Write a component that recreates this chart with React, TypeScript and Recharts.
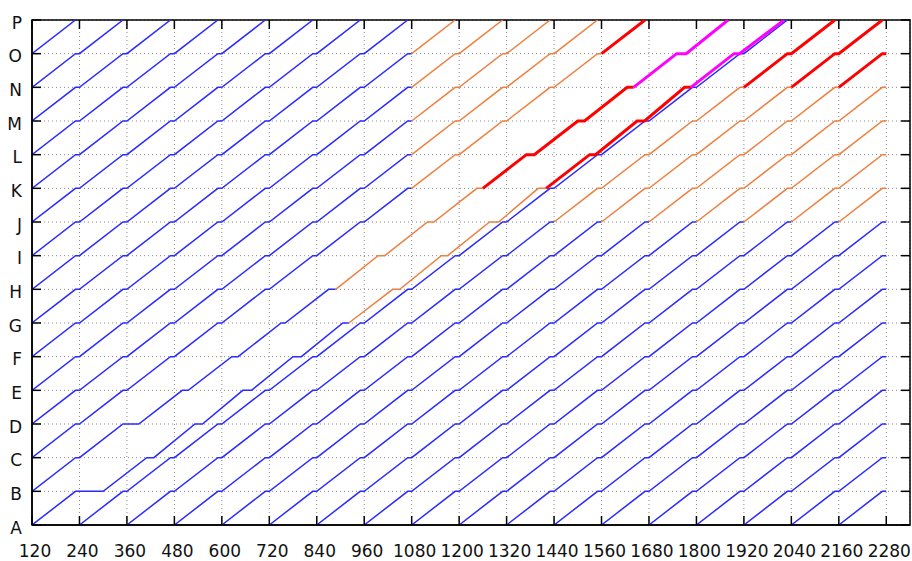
import { LineChart, Line, XAxis, YAxis, CartesianGrid, ReferenceArea } from "recharts";

const stations = ["A", "B", "C", "D", "E", "F", "G", "H", "I", "J", "K", "L", "M", "N", "O", "P"];
const levelTicks = [0, 1, 2, 3, 4, 5, 6, 7, 8, 9, 10, 11, 12, 13, 14, 15];
const xTicks = [120, 240, 360, 480, 600, 720, 840, 960, 1080, 1200, 1320, 1440, 1560, 1680, 1800, 1920, 2040, 2160, 2280];

// undisturbed running profile: offsets from the departure at A
const regularArrive = [0, 110, 230, 350, 470, 590, 710, 830, 950, 1070, 1190, 1310, 1430, 1550, 1670, 1790];
const regularDepart = [0, 120, 240, 360, 480, 600, 720, 840, 960, 1080, 1200, 1320, 1440, 1560, 1680, 1790];

// departures from A of the trains that run to profile
const regularStarts = [
  -1560, -1440, -1320, -1200, -1080, -960, -840, -720, -600, -480, -360, -240, -120,
  240, 360, 480, 600, 720, 840, 960, 1080, 1200, 1320, 1440, 1560, 1680, 1800, 1920, 2040, 2160,
];

// the two delayed trains, read station by station
const train0Arrive = [0, 110, 230, 350, 500, 625, 750, 870, 995, 1120, 1245, 1370, 1500, 1625, 1750, 1880];
const train0Depart = [0, 120, 240, 390, 515, 641, 760, 888, 1012, 1136, 1260, 1390, 1517, 1641, 1774, 1880];
const train120Arrive = [120, 230, 410, 532, 653, 780, 906, 1032, 1155, 1277, 1400, 1530, 1650, 1770, 1895, 2022];
const train120Depart = [120, 300, 428, 551, 675, 801, 921, 1050, 1171, 1300, 1420, 1545, 1669, 1786, 1909, 2022];

// [train, first leg, last leg]
const orangeLegs = [
  [-600, 14, 14], [-480, 13, 14], [-360, 12, 14], [-240, 11, 14], [-120, 10, 13],
  [0, 7, 9], [120, 6, 9],
  [360, 9, 14], [480, 9, 14], [600, 9, 14], [720, 9, 14], [840, 9, 14], [960, 9, 14], [1080, 9, 14],
];
const redLegs = [[-120, 14, 14], [0, 10, 12], [120, 10, 12], [360, 13, 14], [480, 13, 14], [600, 13, 14]];
const magentaLegs = [[0, 13, 14], [120, 13, 14]];

const X_MIN = 120;
const X_MAX = 2280;
const PLOT_TOP = 20;
const PLOT_BOTTOM = 525;
const PLOT_LEFT = 32;
const PLOT_RIGHT = 910;
const FONT = "'DejaVu Sans', sans-serif";

const COLORS = {
  blue: "#2b2bff",
  orange: "#ee8040",
  red: "#ff0000",
  magenta: "#ff00ff",
};
const WIDTHS: Record<string, number> = { blue: 1.5, orange: 1.5, red: 3, magenta: 3 };

type Train = { id: number; arr: number[]; dep: number[] };

const trains: Train[] = [
  ...regularStarts.map((s) => ({
    id: s,
    arr: regularArrive.map((o) => s + o),
    dep: regularDepart.map((o) => s + o),
  })),
  { id: 0, arr: train0Arrive, dep: train0Depart },
  { id: 120, arr: train120Arrive, dep: train120Depart },
];

const inSpan = (list: number[][], id: number, leg: number) =>
  list.some(([t, a, b]) => t === id && leg >= a && leg <= b);

const legColor = (id: number, leg: number) => {
  if (inSpan(magentaLegs, id, leg)) return "magenta";
  if (inSpan(redLegs, id, leg)) return "red";
  if (inSpan(orangeLegs, id, leg)) return "orange";
  return "blue";
};

type Pt = { x: number; y: number };
type Piece = { color: string; pts: Pt[] };

const pieces: Piece[] = [];
trains.forEach((tr) => {
  let cur: Piece | null = null;
  for (let n = 0; n < 15; n++) {
    const color = legColor(tr.id, n);
    const leg = [
      { x: tr.dep[n], y: n },
      { x: tr.arr[n + 1], y: n + 1 },
      { x: tr.dep[n + 1], y: n + 1 },
    ].filter((p) => p.x >= X_MIN && p.x <= X_MAX);
    if (!leg.length) continue;
    if (cur && cur.color === color) cur.pts.push(...leg);
    else {
      cur = { color, pts: leg };
      pieces.push(cur);
    }
  }
});

const order = ["blue", "orange", "red", "magenta"];
const sorted = order.flatMap((c) => pieces.filter((p) => p.color === c));

const XTick = ({ x, payload }: any) => (
  <g>
    <line x1={x} x2={x} y1={PLOT_BOTTOM} y2={PLOT_BOTTOM - 9} stroke="#000" strokeWidth={1.5} />
    <line x1={x} x2={x} y1={PLOT_TOP} y2={PLOT_TOP + 9} stroke="#000" strokeWidth={1.5} />
    <text x={x + 3} y={PLOT_BOTTOM + 32} textAnchor="middle" fontSize={17} fontFamily={FONT} fill="#111">
      {payload.value}
    </text>
  </g>
);

const YTick = ({ y, payload }: any) => (
  <g>
    <line x1={PLOT_LEFT} x2={PLOT_LEFT + 9} y1={y} y2={y} stroke="#000" strokeWidth={1.5} />
    <line x1={PLOT_RIGHT} x2={PLOT_RIGHT - 9} y1={y} y2={y} stroke="#000" strokeWidth={1.5} />
    <text x={22} y={y + 8.5} textAnchor="end" fontSize={17} fontFamily={FONT} fill="#111">
      {stations[payload.value]}
    </text>
  </g>
);

export default function App() {
  return (
    <div style={{ position: "absolute", left: 0, top: 0, width: 912, height: 561, background: "#fff" }}>
      <LineChart width={912} height={561} margin={{ top: PLOT_TOP, right: 912 - PLOT_RIGHT, left: 0, bottom: 0 }}>
        <CartesianGrid stroke="#8a8a8a" strokeDasharray="1 3" />
        <XAxis
          type="number"
          dataKey="x"
          domain={[120, 2340]}
          ticks={xTicks}
          interval={0}
          height={36}
          tickLine={false}
          tickSize={0}
          axisLine={{ stroke: "#000", strokeWidth: 1.5 }}
          tick={<XTick />}
          allowDataOverflow
        />
        <YAxis
          type="number"
          dataKey="y"
          domain={[0, 15]}
          ticks={levelTicks}
          interval={0}
          width={PLOT_LEFT}
          tickLine={false}
          tickSize={0}
          axisLine={{ stroke: "#000", strokeWidth: 1.5 }}
          tick={<YTick />}
          allowDataOverflow
        />
        <ReferenceArea x1={120} x2={2340} y1={0} y2={15} fill="none" stroke="#000" strokeWidth={1.5} />
        {sorted.map((p, i) => (
          <Line
            key={i}
            data={p.pts}
            dataKey="y"
            type="linear"
            stroke={COLORS[p.color as keyof typeof COLORS]}
            strokeWidth={WIDTHS[p.color]}
            dot={false}
            activeDot={false}
            isAnimationActive={false}
          />
        ))}
      </LineChart>
    </div>
  );
}
